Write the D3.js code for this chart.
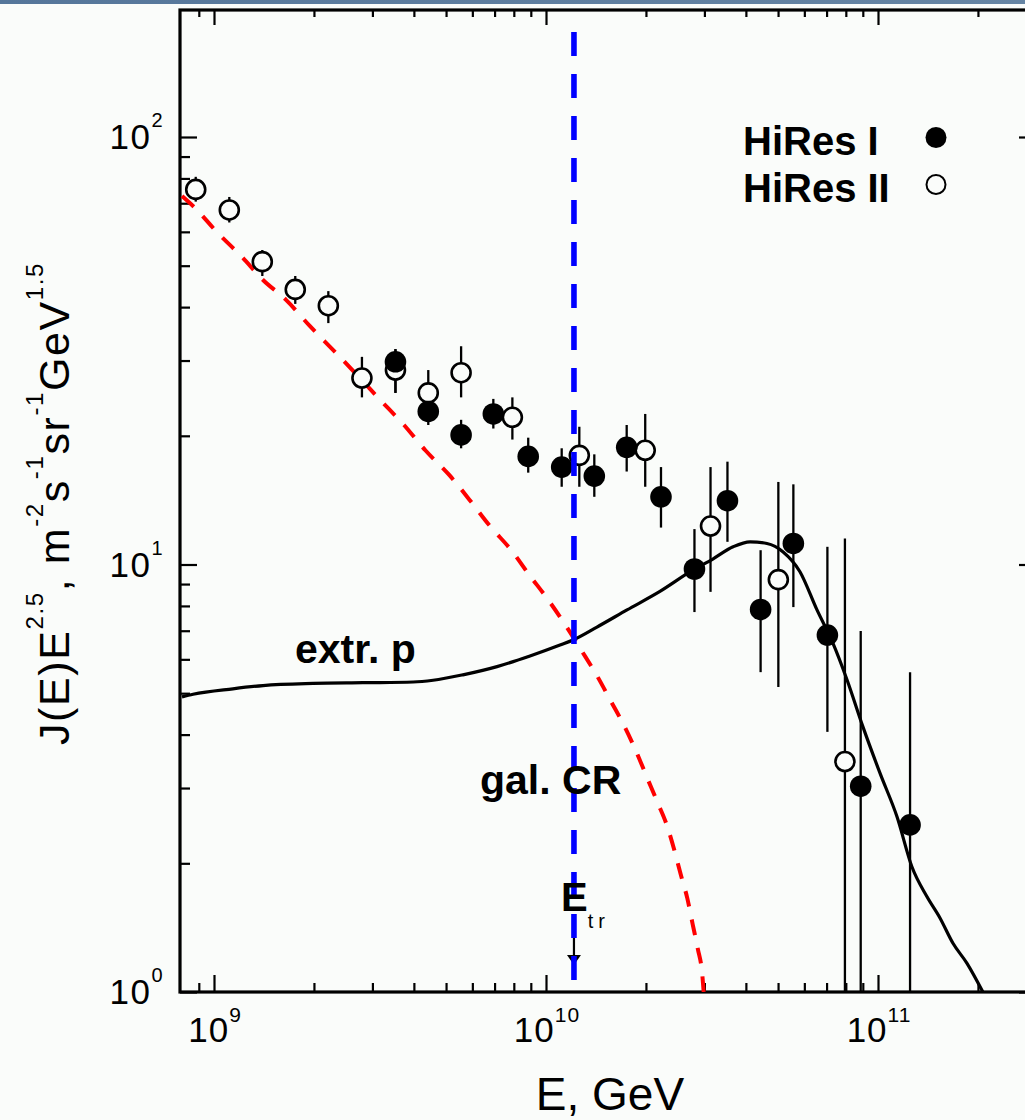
<!DOCTYPE html>
<html>
<head>
<meta charset="utf-8">
<script src="https://cdn.jsdelivr.net/npm/d3@7"></script>
<style>
  html, body { margin: 0; padding: 0; background: #fafcfa; }
  svg { display: block; }
  text { font-family: "Liberation Sans", Arial, Helvetica, sans-serif; fill: #000; }
</style>
</head>
<body>
<svg id="chart" width="1025" height="1120"></svg>
<script>
// ---- HiRes I (filled circles): energy [GeV], flux J(E)E^2.5, error-bar limits
const hires1E  = [3.52e9, 4.42e9, 5.55e9, 6.94e9, 8.84e9, 1.115e10, 1.398e10, 1.75e10, 2.22e10, 2.80e10, 3.52e10, 4.43e10, 5.56e10, 7.04e10, 8.87e10, 1.249e11];
const hires1J  = [29.8, 22.8, 20.1, 22.5, 17.9, 16.9, 16.1, 18.8, 14.4, 9.76, 14.1, 7.85, 11.2, 6.84, 3.03, 2.46];
const hires1Lo = [25.2, 21.2, 18.7, 20.8, 16.4, 15.2, 14.4, 16.5, 12.2, 7.74, 11.3, 5.6, 7.95, 4.06, 0.5, 0.5];
const hires1Hi = [31.9, 24.4, 21.8, 24.4, 19.8, 18.7, 18.1, 21.2, 16.9, 12.1, 17.4, 10.8, 15.4, 11.0, 6.99, 5.6];

// ---- HiRes II (open circles)
const hires2E  = [8.81e8, 1.112e9, 1.398e9, 1.757e9, 2.21e9, 2.79e9, 3.52e9, 4.42e9, 5.55e9, 7.92e9, 1.26e10, 1.99e10, 3.13e10, 5.01e10, 7.95e10];
const hires2J  = [75.4, 67.5, 51.1, 44.0, 40.3, 27.3, 28.5, 25.2, 28.1, 22.1, 18.0, 18.5, 12.3, 9.22, 3.46];
const hires2Lo = [70.6, 63.1, 47.3, 40.7, 36.7, 24.6, 25.2, 23.6, 24.6, 19.6, 15.2, 15.2, 8.63, 5.17, 0.5];
const hires2Hi = [80.7, 72.4, 54.4, 47.3, 43.6, 30.6, 31.9, 28.5, 32.4, 24.6, 21.0, 22.5, 16.9, 15.6, 11.5];

// ---- galactic cosmic-ray component (red dashed)
const galE = [8.01e8, 8.71e8, 1.021e9, 1.214e9, 1.405e9, 1.648e9, 1.946e9, 2.298e9, 2.715e9, 3.16e9, 3.735e9, 4.33e9, 5.11e9, 5.87e9, 6.78e9, 7.86e9, 8.91e9, 1.016e10, 1.149e10, 1.281e10, 1.421e10, 1.566e10, 1.718e10, 1.867e10, 2.02e10, 2.17e10, 2.31e10, 2.43e10, 2.545e10, 2.665e10, 2.766e10, 2.864e10, 2.957e10, 2.985e10];
const galJ = [72.8, 68.6, 59.9, 52.4, 46.3, 41.6, 36.1, 31.6, 27.6, 24.3, 21.2, 18.5, 16.2, 14.2, 12.3, 10.8, 9.45, 8.26, 7.18, 6.28, 5.51, 4.80, 4.20, 3.66, 3.16, 2.77, 2.46, 2.16, 1.885, 1.656, 1.44, 1.265, 1.096, 1.0];

// ---- extragalactic protons (black solid)
const extrE = [8.01e8, 8.65e8, 1.14e9, 1.405e9, 1.99e9, 2.81e9, 3.98e9, 4.57e9, 5.62e9, 7.12e9, 8.95e9, 1.102e10, 1.206e10, 1.424e10, 1.754e10, 2.204e10, 2.773e10, 3.18e10, 3.66e10, 4.12e10, 4.63e10, 5.18e10, 5.82e10, 6.55e10, 7.32e10, 8.07e10, 9.01e10, 1.014e11, 1.141e11, 1.266e11, 1.405e11, 1.537e11, 1.682e11, 1.854e11, 2.07e11];
const extrJ = [4.90, 4.97, 5.12, 5.21, 5.27, 5.29, 5.31, 5.36, 5.52, 5.77, 6.11, 6.48, 6.66, 7.14, 7.83, 8.65, 9.71, 10.3, 11.0, 11.3, 11.2, 10.7, 9.62, 7.83, 6.54, 5.37, 4.17, 3.25, 2.57, 1.96, 1.67, 1.49, 1.30, 1.167, 1.0];

// transition energy marker
const eTransition = 1.214e10;

// axis tick labels (powers of ten)
const xTickExponents = [9, 10, 11];
const yTickExponents = [0, 1, 2];

// legend entries
const legendNames = ["HiRes I", "HiRes II"];

// ------------------------------------------------------------------
const svg = d3.select("#chart");
const W = 1025, H = 1120;
const frame = { left: 180, right: 1036, top: 10, bottom: 992 };

const x = d3.scaleLog().domain([1e9, 1e11]).range([214, 878]);
const y = d3.scaleLog().domain([1, 100]).range([992, 137]);

// page background and the thin band across the top
svg.append("rect").attr("width", W).attr("height", H).attr("fill", "#fafcfa");
const grad = svg.append("defs").append("linearGradient").attr("id", "band")
  .attr("x1", 0).attr("x2", 1).attr("y1", 0).attr("y2", 0);
grad.append("stop").attr("offset", 0).attr("stop-color", "#55769a");
grad.append("stop").attr("offset", 1).attr("stop-color", "#6685a4");
svg.append("rect").attr("width", W).attr("height", 4).attr("fill", "url(#band)");

// minor/major tick values inside the frame
function logTicks(scale, lo, hi, e0, e1) {
  const major = [], minor = [];
  for (let e = e0; e <= e1; e++) {
    for (let m = 1; m <= 9; m++) {
      const v = m * Math.pow(10, e);
      const p = scale(v);
      if (p >= lo && p <= hi) (m === 1 ? major : minor).push(v);
    }
  }
  return { major, minor };
}
const xt = logTicks(x, frame.left + 2, frame.right - 2, 8, 11);
const yt = logTicks(y, frame.top + 2, frame.bottom, -1, 2);

function drawAxis(gen, transform, values, size) {
  const g = svg.append("g").attr("transform", transform)
    .call(gen.tickValues(values).tickSizeInner(-size).tickSizeOuter(0).tickFormat(""));
  g.select(".domain").remove();
  g.selectAll(".tick line").attr("stroke", "#000").attr("stroke-width", 2.2);
  return g;
}
// ticks point inward on all four sides
drawAxis(d3.axisBottom(x), `translate(0,${frame.bottom})`, xt.minor, 9);
drawAxis(d3.axisBottom(x), `translate(0,${frame.bottom})`, xt.major, 17);
drawAxis(d3.axisTop(x), `translate(0,${frame.top})`, xt.minor, 7);
drawAxis(d3.axisTop(x), `translate(0,${frame.top})`, xt.major, 15);
drawAxis(d3.axisLeft(y), `translate(${frame.left},0)`, yt.minor, 10);
drawAxis(d3.axisLeft(y), `translate(${frame.left},0)`, yt.major, 17);
drawAxis(d3.axisRight(y), `translate(${frame.right},0)`, yt.minor, 10);
drawAxis(d3.axisRight(y), `translate(${frame.right},0)`, yt.major, 17);

// frame
svg.append("rect")
  .attr("x", frame.left).attr("y", frame.top)
  .attr("width", frame.right - frame.left).attr("height", frame.bottom - frame.top)
  .attr("fill", "none").attr("stroke", "#000").attr("stroke-width", 3.2);

// tick labels
const xLab = svg.append("g");
xTickExponents.forEach(e => {
  const t = xLab.append("text")
    .attr("x", x(Math.pow(10, e)) + 1).attr("y", 1042)
    .attr("text-anchor", "middle").style("font-size", "35px").style("letter-spacing", "1px");
  t.append("tspan").text("10");
  t.append("tspan").attr("dy", -20).style("font-size", "21px").text(e);
});
const yLab = svg.append("g");
yTickExponents.forEach(e => {
  const t = yLab.append("text")
    .attr("x", 164).attr("y", y(Math.pow(10, e)) + 12)
    .attr("text-anchor", "end").style("font-size", "35px").style("letter-spacing", "1.5px");
  t.append("tspan").text("10");
  t.append("tspan").attr("dy", -22).style("font-size", "20px").text(e);
});

// axis titles
svg.append("text")
  .attr("x", 610).attr("y", 1110)
  .attr("text-anchor", "middle").style("font-size", "46px")
  .text("E, GeV");

const yTitle = svg.append("text")
  .attr("transform", "translate(69,745) rotate(-90)")
  .attr("text-anchor", "start").style("font-size", "43px").style("letter-spacing", "1.6px");
const titleParts = [
  ["J(E)E", 0], ["2.5", 1], [", m", 0], ["-2", 1], ["s", 0], ["-1", 1],
  ["sr", 0], ["-1", 1], ["GeV", 0], ["1.5", 1]
];
let sup = false;
titleParts.forEach(([txt, isSup]) => {
  const ts = yTitle.append("tspan").text(txt);
  if (isSup && !sup) ts.attr("dy", -26);
  if (!isSup && sup) ts.attr("dy", 26);
  ts.style("font-size", isSup ? "24px" : "43px");
  sup = !!isSup;
});

// clip everything data-related to the frame
svg.append("clipPath").attr("id", "plotClip").append("rect")
  .attr("x", frame.left).attr("y", frame.top)
  .attr("width", frame.right - frame.left).attr("height", frame.bottom - frame.top);
const plot = svg.append("g").attr("clip-path", "url(#plotClip)");

const line = d3.line().x(d => x(d[0])).y(d => y(d[1])).curve(d3.curveMonotoneX);

// galactic component
plot.append("path")
  .datum(d3.zip(galE, galJ))
  .attr("d", line)
  .attr("fill", "none").attr("stroke", "#ff0000")
  .attr("stroke-width", 4).attr("stroke-dasharray", "16,13");

// extragalactic protons
plot.append("path")
  .datum(d3.zip(extrE, extrJ))
  .attr("d", line)
  .attr("fill", "none").attr("stroke", "#000")
  .attr("stroke-width", 3.2);

// error bars
function errorBars(E, Lo, Hi) {
  plot.append("g").selectAll("line")
    .data(d3.range(E.length)).join("line")
    .attr("x1", i => x(E[i])).attr("x2", i => x(E[i]))
    .attr("y1", i => y(Hi[i])).attr("y2", i => y(Lo[i]))
    .attr("stroke", "#000").attr("stroke-width", 2.3);
}
errorBars(hires2E, hires2Lo, hires2Hi);
errorBars(hires1E, hires1Lo, hires1Hi);

// HiRes II open markers
plot.append("g").selectAll("circle")
  .data(d3.range(hires2E.length)).join("circle")
  .attr("cx", i => x(hires2E[i])).attr("cy", i => y(hires2J[i]))
  .attr("r", 9.5).attr("fill", "#fafcfa").attr("stroke", "#000").attr("stroke-width", 2.6);

// HiRes I filled markers
plot.append("g").selectAll("circle")
  .data(d3.range(hires1E.length)).join("circle")
  .attr("cx", i => x(hires1E[i])).attr("cy", i => y(hires1J[i]))
  .attr("r", 10.8).attr("fill", "#000");

// transition energy: arrow and dashed vertical line
const xTr = x(eTransition);
svg.append("line")
  .attr("x1", xTr).attr("x2", xTr).attr("y1", 938).attr("y2", 958)
  .attr("stroke", "#000").attr("stroke-width", 2.2);
svg.append("path")
  .attr("d", `M${xTr - 7},955 L${xTr + 7},955 L${xTr},965 Z`)
  .attr("fill", "#000");
svg.append("line")
  .attr("x1", xTr).attr("x2", xTr).attr("y1", 32).attr("y2", 980)
  .attr("stroke", "#0000ff").attr("stroke-width", 5.6)
  .attr("stroke-dasharray", "24,18");

// curve annotations
svg.append("text").attr("x", 295).attr("y", 663)
  .style("font-size", "41px").style("font-weight", "bold").text("extr. p");
svg.append("text").attr("x", 480).attr("y", 794)
  .style("font-size", "41px").style("font-weight", "bold").text("gal. CR");
const etr = svg.append("text").attr("x", 561).attr("y", 911)
  .style("font-size", "40px").style("font-weight", "bold");
etr.append("tspan").text("E");
etr.append("tspan").attr("dy", 17).style("font-size", "20px").style("font-weight", "normal")
  .style("letter-spacing", "5px").text("tr");

// legend
const legend = svg.append("g");
legendNames.forEach((name, i) => {
  const yy = 155 + i * 47;
  legend.append("text").attr("x", 743).attr("y", yy)
    .style("font-size", "40px").style("font-weight", "bold").text(name);
  const c = legend.append("circle").attr("cx", 936).attr("cy", yy - 17.5).attr("r", i === 0 ? 10.5 : 9.5);
  if (i === 0) c.attr("fill", "#000");
  else c.attr("fill", "#fafcfa").attr("stroke", "#000").attr("stroke-width", 2);
});
</script>
</body>
</html>
